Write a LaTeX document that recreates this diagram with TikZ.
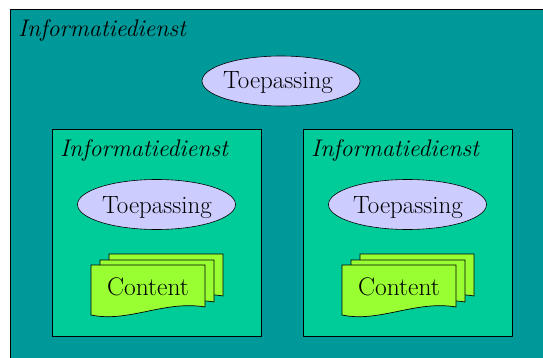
\documentclass[tikz,border=0pt]{standalone}
\usepackage{fontspec}
\usetikzlibrary{shapes.geometric}
\definecolor{outerteal}{RGB}{0,153,153}
\definecolor{boxgreen}{RGB}{0,204,153}
\definecolor{appblue}{RGB}{204,204,255}
\definecolor{contentgreen}{RGB}{153,255,51}
\begin{document}
\begin{tikzpicture}[x=1pt,y=-1pt,
		dienst/.style={draw=black,line width=0.8pt,fill=boxgreen},
		app/.style={draw=black,line width=0.6pt,fill=appblue,ellipse,inner sep=0pt,minimum width=158pt,minimum height=50pt},
		doc/.style={draw=black,line width=0.7pt,fill=contentgreen},
		titel/.style={anchor=base west,inner sep=0pt,font=\fontsize{24}{29}\selectfont\itshape},
		apptext/.style={anchor=base,inner sep=0pt,font=\fontsize{25}{30}\selectfont},
		doctext/.style={anchor=base,inner sep=0pt,font=\fontsize{25.5}{30}\selectfont}]
	\useasboundingbox (0,0) rectangle (543,358);
	\clip (0,0) rectangle (543,358);
	\fill [white] (0,0) rectangle (543,358);
	% buitenste informatiedienst
	\draw [line width=0.8pt,fill=outerteal] (10,9) rectangle (570,380);
	\node [titel] (dienstTitel) at (18,37) {Informatiedienst};
	\node [app] (appTop) at (281,81) {};
	\node [apptext] (appTopText) at (278,89) {Toepassing};
	% twee binnenste informatiediensten
	\foreach \bx in {0,251} {
		\begin{scope}[shift={(\bx,0)}]
			\draw [dienst] (52,129) rectangle (261,336);
			\node [titel] (dienstTitel\bx) at (60,157) {Informatiedienst};
			\node [app] (app\bx) at (156.5,204.5) {};
			\node [apptext] (appText\bx) at (157,213) {Toepassing};
			\foreach \dx/\dy in {18/-11,9/-5,0/0}
				\draw [doc,shift={(\dx,\dy)}] (91,265) -- (205,265) -- (205,307)
					.. controls (165,300) and (128,323) .. (91,315) -- cycle;
			\node [doctext] (content\bx) at (148,295) {Content};
		\end{scope}
	}
\end{tikzpicture}
\end{document}
